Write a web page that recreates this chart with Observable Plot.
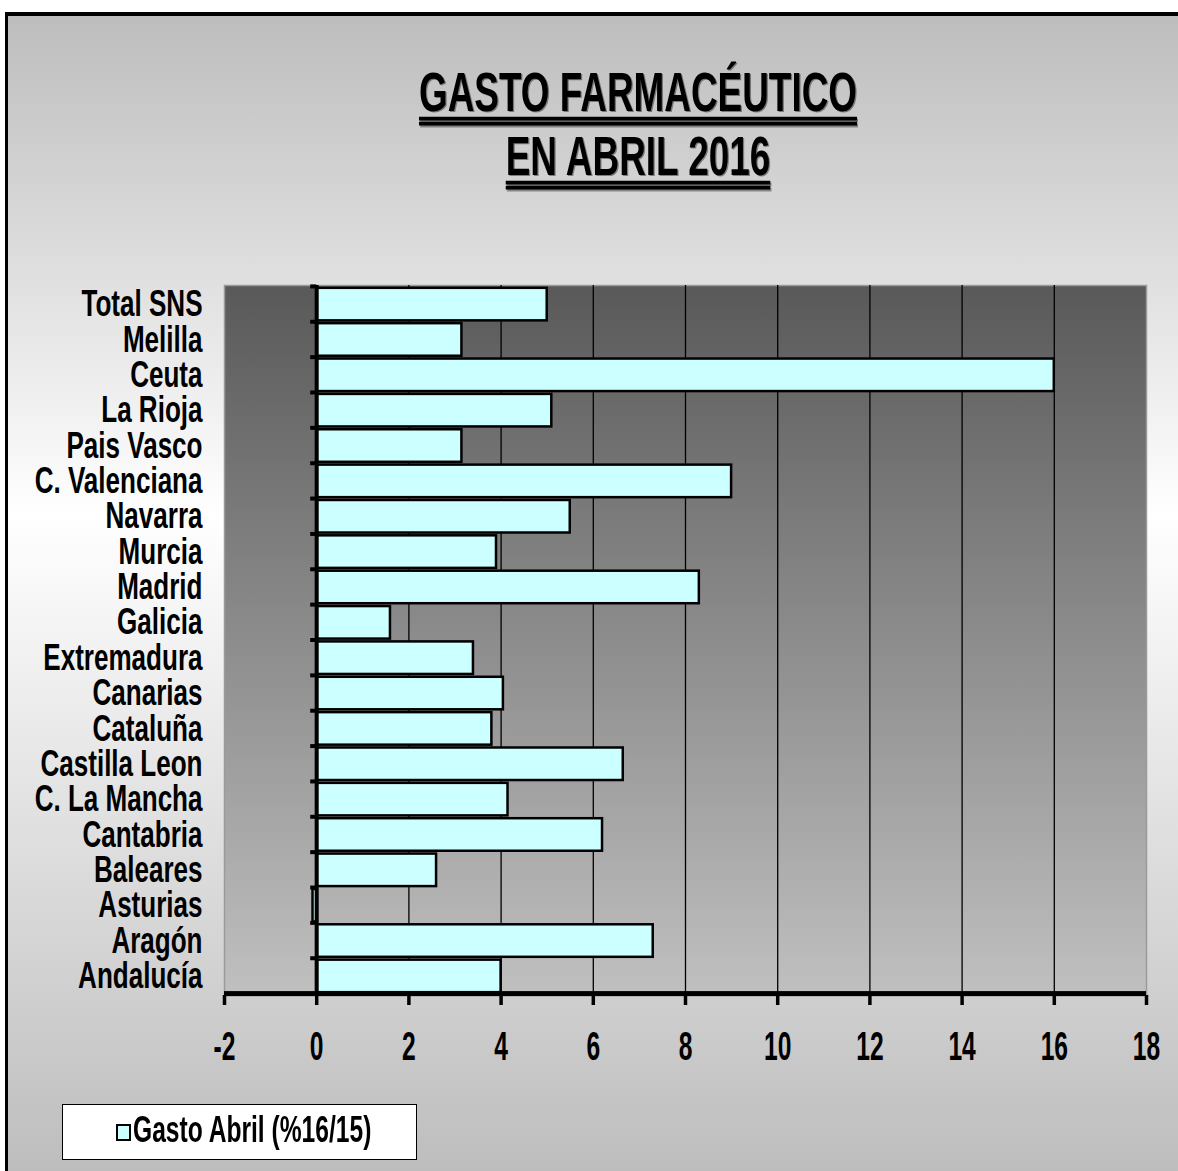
<!DOCTYPE html>
<html><head><meta charset="utf-8">
<script src="https://cdn.jsdelivr.net/npm/d3@7"></script>
<script src="https://cdn.jsdelivr.net/npm/@observablehq/plot@0.6"></script>
<style>
html,body{margin:0;padding:0;width:1178px;height:1171px;overflow:hidden;background:#fff;}
.narrow{font-family:"Liberation Sans",Arial,sans-serif;font-weight:bold;color:#000;}
#bg{position:absolute;left:5px;top:12px;width:1200px;height:1200px;border-left:3px solid #000;border-top:4px solid #000;
 background:linear-gradient(to bottom,#bdbdbd 0px,#ffffff 500px,#bdbdbd 1159px);}
.tline{position:absolute;left:0;width:1276px;text-align:center;font-size:45px;line-height:45px;
 transform:scale(0.82,1.25);transform-origin:50% 0;text-decoration:underline double;text-decoration-thickness:3px;text-underline-offset:5px;
 text-shadow:1.5px 1.5px 0 rgba(0,0,0,0.4);}
#chart{position:absolute;left:0;top:0;}
#legend{position:absolute;left:62px;top:1104px;width:353px;height:54px;background:#fff;border:1.5px solid #000;font-size:30px;}
#legend .sw{position:absolute;left:53px;top:19px;width:11px;height:13px;background:#ccffff;border:2px solid #000;}
#legend .lt{position:absolute;left:70px;top:8px;line-height:34px;white-space:nowrap;transform:scale(0.82,1.2);transform-origin:0 50%;}
</style></head>
<body>
<div id="bg"></div>
<div class="tline narrow" style="top:63px">GASTO FARMACÉUTICO</div>
<div class="tline narrow" style="top:127px">EN ABRIL 2016</div>
<div id="chart"></div>
<div id="legend" class="narrow"><span class="sw"></span><span class="lt" id="legText"></span></div>
<script>
const categories = ["Total SNS","Melilla","Ceuta","La Rioja","Pais Vasco","C. Valenciana","Navarra","Murcia","Madrid","Galicia","Extremadura","Canarias","Cataluña","Castilla Leon","C. La Mancha","Cantabria","Baleares","Asturias","Aragón","Andalucía"];
const values = [5.0,3.15,16.0,5.1,3.15,9.0,5.5,3.9,8.3,1.6,3.4,4.05,3.8,6.65,4.15,6.2,2.6,-0.08,7.3,4.0];
const xTicks = [-2,0,2,4,6,8,10,12,14,16,18];
const gridTicks = [2,4,6,8,10,12,14,16];
const seriesName = "Gasto Abril (%16/15)";
document.getElementById("legText").textContent = seriesName;

const data = categories.map((c,i)=>({region:c, value:values[i]}));

const W = 1178, H = 1171, mT = 285, mB = 176, mL = 224, mR = 32;
const pad = 0.08;
const n = categories.length;
const step = (H - mT - mB) / (n - pad + 2*pad);
const bw = step*(1-pad);
const hg = step*pad/2;

const plot = Plot.plot({
  width: W, height: H,
  marginTop: mT, marginBottom: mB, marginLeft: mL, marginRight: mR,
  style: {background:"transparent", fontFamily:'"Liberation Sans",Arial,sans-serif', fontWeight:"bold", color:"#000", overflow:"visible"},
  x: {domain:[-2,18]},
  y: {domain: categories, padding: pad, round: false},
  marks: [
    Plot.frame({fill:"url(#plotGrad)", stroke:"#9a9a9a", strokeWidth:1.5}),
    Plot.gridX(gridTicks, {stroke:"#000", strokeOpacity:1, strokeWidth:1.3}),
    Plot.barX(data, {x:"value", y:"region", fill:"#ccffff", stroke:"#000", strokeWidth:2.5}),
    Plot.ruleX([0], {stroke:"#000", strokeWidth:4}),
    Plot.barX(categories, {x1:-0.13, x2:0, y:d=>d, fill:"#000", insetTop:-(hg+2), insetBottom:bw+hg-2}),
    Plot.barX([categories[n-1]], {x1:-2, x2:18, y:d=>d, fill:"#000", insetTop:bw+hg-2.5, insetBottom:-(hg+2.5)}),
    Plot.axisX({ticks:xTicks, tickSize:10, strokeWidth:3.5, tickPadding:26, fontSize:30, tickFormat:d=>String(d), label:null}),
    Plot.axisY({tickSize:0, tickPadding:22, fontSize:31, label:null})
  ]
});

const svg = d3.select(plot);
svg.insert("defs", ":first-child").html('<linearGradient id="plotGrad" x1="0" y1="0" x2="0" y2="1"><stop offset="0" stop-color="#595959"/><stop offset="1" stop-color="#c0c0c0"/></linearGradient>');

function stretch(sel, kx, ky){
  sel.each(function(){
    const t = this.getAttribute("transform") || "";
    this.setAttribute("transform", t + " scale(" + kx + "," + ky + ")");
  });
}
stretch(svg.selectAll('g[aria-label="x-axis tick label"] text'), 0.82, 1.35);
stretch(svg.selectAll('g[aria-label="y-axis tick label"] text'), 0.84, 1.17);

document.getElementById("chart").appendChild(plot);
</script>
</body></html>
